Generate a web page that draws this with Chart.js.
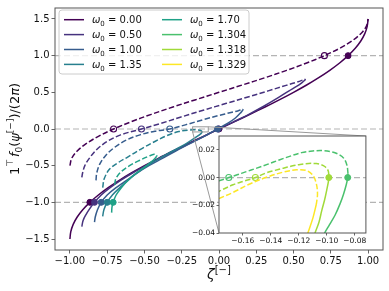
<!DOCTYPE html>
<html>
<head>
<meta charset="utf-8">
<script src="https://cdn.jsdelivr.net/npm/chart.js@4.4.0/dist/chart.umd.min.js"></script>
<style>
  html, body { margin: 0; padding: 0; background: #fff; }
  #wrap { position: relative; width: 389px; height: 291px; }
  #main { position: absolute; left: 0; top: 0; width: 389px; height: 291px; }
  #inset { position: absolute; left: 185px; top: 130px; width: 186px; height: 118px; }
</style>
</head>
<body>
<div id="wrap">
  <canvas id="main" width="389" height="291"></canvas>
  <canvas id="inset" width="186" height="118"></canvas>
</div>
<script>
// legend entries (column-major, as in the figure)
const omegaLabels = ['0.00', '0.50', '1.00', '1.35', '1.70', '1.304', '1.318', '1.329'];

// main panel curves, [zeta, value] pairs
const solid_000 = [[-1.0,-1.5],[-0.994,-1.4],[-0.978,-1.3],[-0.951,-1.2],[-0.914,-1.1],[-0.866,-1.0],[-0.809,-0.9],[-0.743,-0.8],[-0.669,-0.7],[-0.588,-0.6],[-0.5,-0.5],[-0.407,-0.4],[-0.309,-0.3],[-0.208,-0.2],[-0.105,-0.1],[0,0],[0.105,0.1],[0.208,0.2],[0.309,0.3],[0.407,0.4],[0.5,0.5],[0.588,0.6],[0.669,0.7],[0.743,0.8],[0.809,0.9],[0.866,1.0],[0.914,1.1],[0.951,1.2],[0.978,1.3],[0.994,1.4],[1.0,1.5]];
const dashed_000 = [[-1.0,-0.5],[-0.988,-0.4],[-0.951,-0.3],[-0.891,-0.2],[-0.809,-0.1],[-0.707,0],[-0.588,0.1],[-0.454,0.2],[-0.309,0.3],[-0.156,0.4],[0,0.5],[0.156,0.6],[0.309,0.7],[0.454,0.8],[0.588,0.9],[0.707,1.0],[0.809,1.1],[0.891,1.2],[0.951,1.3],[0.988,1.4],[1.0,1.5]];
const solid_050 = [[-0.92,-1.33],[-0.912,-1.25],[-0.893,-1.17],[-0.868,-1.09],[-0.835,-1.0],[-0.79,-0.9],[-0.73,-0.8],[-0.66,-0.7],[-0.58,-0.6],[-0.49,-0.5],[-0.4,-0.4],[-0.3,-0.3],[-0.2,-0.2],[-0.1,-0.1],[-0.005,0],[0.1,0.1],[0.2,0.2],[0.3,0.31],[0.4,0.43],[0.47,0.52],[0.52,0.58],[0.555,0.63],[0.575,0.665],[0.58,0.68]];
const dashed_050 = [[-0.92,-0.66],[-0.915,-0.6],[-0.9,-0.5],[-0.87,-0.4],[-0.82,-0.28],[-0.75,-0.17],[-0.66,-0.08],[-0.52,0],[-0.4,0.07],[-0.26,0.16],[-0.1,0.26],[0.05,0.35],[0.2,0.44],[0.33,0.52],[0.45,0.595],[0.53,0.645],[0.565,0.67],[0.58,0.68]];
const solid_100 = [[-0.835,-1.27],[-0.83,-1.2],[-0.815,-1.1],[-0.79,-1.0],[-0.75,-0.9],[-0.69,-0.8],[-0.62,-0.7],[-0.55,-0.6],[-0.47,-0.5],[-0.38,-0.4],[-0.29,-0.3],[-0.195,-0.2],[-0.1,-0.1],[-0.01,0],[0.06,0.08],[0.11,0.15],[0.145,0.22],[0.16,0.26],[0.162,0.27]];
const dashed_100 = [[-0.825,-0.7],[-0.82,-0.6],[-0.8,-0.48],[-0.76,-0.36],[-0.7,-0.25],[-0.62,-0.15],[-0.53,-0.08],[-0.43,-0.03],[-0.33,0],[-0.22,0.06],[-0.1,0.13],[0,0.185],[0.08,0.225],[0.13,0.25],[0.155,0.265],[0.162,0.27]];
const solid_135 = [[-0.78,-1.19],[-0.772,-1.1],[-0.75,-1.0],[-0.715,-0.9],[-0.665,-0.8],[-0.61,-0.7],[-0.55,-0.6],[-0.48,-0.5],[-0.4,-0.4],[-0.31,-0.3],[-0.22,-0.2],[-0.16,-0.12],[-0.125,-0.07],[-0.112,-0.04]];
const dashed_135 = [[-0.78,-0.8],[-0.77,-0.68],[-0.735,-0.55],[-0.67,-0.45],[-0.61,-0.38],[-0.52,-0.27],[-0.43,-0.17],[-0.35,-0.09],[-0.27,-0.035],[-0.2,-0.014],[-0.15,-0.012],[-0.122,-0.02],[-0.112,-0.04]];
const solid_170 = [[-0.72,-1.14],[-0.718,-1.07],[-0.71,-1.0],[-0.69,-0.9],[-0.655,-0.8],[-0.61,-0.7],[-0.555,-0.6],[-0.5,-0.52],[-0.45,-0.44],[-0.42,-0.38]];
const dashed_170 = [[-0.7,-0.76],[-0.69,-0.67],[-0.655,-0.58],[-0.6,-0.5],[-0.535,-0.43],[-0.47,-0.37],[-0.435,-0.345],[-0.418,-0.355],[-0.42,-0.38]];

// crossings of the reference levels in the main panel
const filledMain = [[[-0.866,-1],[0,0],[0.866,1]], [[-0.835,-1],[-0.005,0]], [[-0.79,-1],[-0.01,0]], [[-0.75,-1]], [[-0.71,-1]]];
const openMain = [[[-0.707,0],[0.707,1]], [[-0.52,0]], [[-0.33,0]], [], []];

// inset curves (zoom near the turning points)
const solid_1304 = [[-0.106,-0.05],[-0.102,-0.041],[-0.098,-0.034],[-0.094,-0.027],[-0.0905,-0.019],[-0.088,-0.012],[-0.086,-0.005],[-0.085,0],[-0.0848,0.003]];
const dashed_1304 = [[-0.0848,0.003],[-0.0855,0.0087],[-0.0875,0.0135],[-0.091,0.0165],[-0.096,0.0185],[-0.103,0.0195],[-0.11,0.0192],[-0.118,0.018],[-0.126,0.0155],[-0.134,0.0127],[-0.142,0.0097],[-0.15,0.0068],[-0.158,0.0041],[-0.164,0.002],[-0.17,0],[-0.177,-0.0024],[-0.182,-0.004]];
const solid_1318 = [[-0.1115,-0.05],[-0.1086,-0.0407],[-0.1055,-0.032],[-0.1036,-0.024],[-0.1015,-0.016],[-0.1,-0.009],[-0.0988,-0.003],[-0.0985,0],[-0.0985,0.002]];
const dashed_1318 = [[-0.0985,0.002],[-0.099,0.005],[-0.1014,0.008],[-0.1045,0.0095],[-0.1074,0.0101],[-0.113,0.0102],[-0.119,0.0095],[-0.125,0.0083],[-0.131,0.0068],[-0.137,0.0052],[-0.143,0.0035],[-0.151,0],[-0.159,-0.0025],[-0.167,-0.0052],[-0.1776,-0.0102],[-0.182,-0.012]];
const solid_1329 = [[-0.1074,-0.0191],[-0.1098,-0.0289],[-0.1134,-0.0398],[-0.1155,-0.046]];
const dashed_1329 = [[-0.182,-0.018],[-0.1776,-0.0155],[-0.1669,-0.0107],[-0.155,-0.0046],[-0.1431,0.0002],[-0.1312,0.0039],[-0.1216,0.0056],[-0.1145,0.0051],[-0.1098,0.0015],[-0.1074,-0.0046],[-0.1066,-0.0119],[-0.1074,-0.0191]];
const filledInset = [[[-0.085,0]], [[-0.0985,0]], []];
const openInset = [[[-0.17,0]], [[-0.151,0]], []];

// reference levels and axes
const refLevels = [-1, 0, 1];
const insetRefLevels = [0];
const xRange = [-1.1, 1.1];
const yRange = [-1.65, 1.65];
const xTicks = [-1, -0.75, -0.5, -0.25, 0, 0.25, 0.5, 0.75, 1];
const xTickLabels = ['\u22121.00', '\u22120.75', '\u22120.50', '\u22120.25', '0.00', '0.25', '0.50', '0.75', '1.00'];
const yTicks = [-1.5, -1, -0.5, 0, 0.5, 1, 1.5];
const yTickLabels = ['\u22121.5', '\u22121.0', '\u22120.5', '0.0', '0.5', '1.0', '1.5'];
const insetXRange = [-0.177, -0.072];
const insetYRange = [-0.04, 0.03];
const insetXTicks = [-0.16, -0.14, -0.12, -0.10, -0.08];
const insetXTickLabels = ['\u22120.16', '\u22120.14', '\u22120.12', '\u22120.10', '\u22120.08'];
const insetYTicks = [-0.04, -0.02, 0, 0.02];
const insetYTickLabels = ['\u22120.04', '\u22120.02', '0.00', '0.02'];

// styling
const viridis = ['#440154', '#46327e', '#365c8d', '#277f8e', '#1fa187', '#4ac16d', '#a0da39', '#fde725'];
const FONT = 'DejaVu Sans';
const spineColor = '#555';
const refColor = '#b4b4b4';
const insetPos = { left: 185, top: 130 };

Chart.defaults.font.family = FONT;

const toPts = arr => arr.map(p => ({ x: p[0], y: p[1] }));

function lineSet(pts, color, dashed) {
  return { data: toPts(pts), showLine: true, borderColor: color, borderWidth: 1.5,
    borderDash: dashed ? [5.5, 2.4] : [], pointRadius: 0, tension: 0.35, fill: false, clip: 0 };
}
function markSet(pts, color, open) {
  return { data: toPts(pts), showLine: false, pointRadius: 3, pointBorderWidth: open ? 1.1 : 1,
    pointBorderColor: color, pointBackgroundColor: open ? 'rgba(255,255,255,0)' : color, clip: 0 };
}
function refSet(level, range) {
  return { data: toPts([[range[0], level], [range[1], level]]), showLine: true, borderColor: refColor,
    borderWidth: 1.2, borderDash: [6, 3], pointRadius: 0, fill: false };
}
function setOrder(sets) { sets.forEach((d, i) => { d.order = -i; }); return sets; }

function axis(range, ticks, labels, size, tl, pad, fix) {
  return {
    type: 'linear', min: range[0], max: range[1],
    afterBuildTicks: s => { s.ticks = ticks.map(v => ({ value: v })); },
    afterFit: fix,
    ticks: { autoSkip: false, maxRotation: 0, padding: pad, color: '#111',
      font: { family: FONT, size: size }, callback: (v, i) => labels[i] },
    grid: { display: true, drawOnChartArea: false, drawTicks: true, tickLength: tl, tickColor: spineColor, tickWidth: 0.9 },
    border: { display: false }
  };
}

// draw text made of pieces [text, font, dy]
function pieces(ctx, parts, x, y, align) {
  let w = 0;
  parts.forEach(p => { ctx.font = p[1]; w += ctx.measureText(p[0]).width; });
  let cx = align === 'center' ? x - w / 2 : x;
  parts.forEach(p => {
    ctx.font = p[1];
    ctx.fillText(p[0], cx, y + p[2]);
    cx += ctx.measureText(p[0]).width;
  });
}

// ---- inset ----
const insetSeries = [[solid_1304, dashed_1304], [solid_1318, dashed_1318], [solid_1329, dashed_1329]];
const insetSets = insetRefLevels.map(v => refSet(v, insetXRange));
insetSeries.forEach((s, k) => {
  const c = viridis[5 + k];
  insetSets.push(lineSet(s[0], c, false), lineSet(s[1], c, true),
    markSet(filledInset[k], c, false), markSet(openInset[k], c, true));
});

const insetDecor = {
  id: 'insetDecor',
  beforeDraw(chart) {
    const { ctx, chartArea: a } = chart;
    ctx.save(); ctx.fillStyle = '#fff';
    ctx.fillRect(a.left, a.top, a.right - a.left, a.bottom - a.top);
    ctx.restore();
  },
  afterDatasetsDraw(chart) {
    const { ctx, chartArea: a } = chart;
    ctx.save(); ctx.strokeStyle = spineColor; ctx.lineWidth = 1;
    ctx.strokeRect(a.left, a.top, a.right - a.left, a.bottom - a.top);
    ctx.restore();
  }
};

const inset = new Chart(document.getElementById('inset'), {
  type: 'scatter',
  data: { datasets: setOrder(insetSets) },
  options: {
    responsive: false, animation: false, events: [],
    plugins: { legend: { display: false }, tooltip: { enabled: false } },
    layout: { padding: { top: 5, right: 5, left: 0, bottom: 0 } },
    scales: {
      x: axis(insetXRange, insetXTicks, insetXTickLabels, 7.5, 2.5, 1.5, s => { s.height = 15; }),
      y: axis(insetYRange, insetYTicks, insetYTickLabels, 7.5, 2.5, 1.5, s => { s.width = 34; })
    }
  },
  plugins: [insetDecor]
});

// ---- main ----
const mainSeries = [[solid_000, dashed_000], [solid_050, dashed_050], [solid_100, dashed_100], [solid_135, dashed_135], [solid_170, dashed_170]];
const mainSets = refLevels.map(v => refSet(v, xRange));
mainSeries.forEach((s, k) => {
  const c = viridis[k];
  mainSets.push(lineSet(s[0], c, false), lineSet(s[1], c, true),
    markSet(filledMain[k], c, false), markSet(openMain[k], c, true));
});

const mainDecor = {
  id: 'mainDecor',
  afterDatasetsDraw(chart) {
    const { ctx, chartArea: a, scales: { x, y } } = chart;
    ctx.save();
    ctx.strokeStyle = spineColor; ctx.lineWidth = 1;
    ctx.strokeRect(a.left, a.top, a.right - a.left, a.bottom - a.top);
    // zoom box and connectors to the inset
    const rx0 = x.getPixelForValue(insetXRange[0]), rx1 = x.getPixelForValue(insetXRange[1]);
    const ry0 = y.getPixelForValue(insetYRange[1]), ry1 = y.getPixelForValue(insetYRange[0]);
    const ia = inset.chartArea;
    ctx.strokeStyle = '#9a9a9a'; ctx.lineWidth = 1;
    ctx.strokeRect(rx0, ry0, rx1 - rx0, ry1 - ry0);
    ctx.beginPath();
    ctx.moveTo(rx1, ry0); ctx.lineTo(insetPos.left + ia.right, insetPos.top + ia.top);
    ctx.moveTo(rx0, ry1); ctx.lineTo(insetPos.left + ia.left, insetPos.top + ia.bottom);
    ctx.stroke();
    ctx.restore();
  },
  afterDraw(chart) {
    const { ctx, chartArea: a } = chart;
    ctx.save();
    // legend
    const bx = 59, by = 10, bw = 190, bh = 64, r = 3;
    ctx.beginPath();
    ctx.moveTo(bx + r, by); ctx.arcTo(bx + bw, by, bx + bw, by + bh, r);
    ctx.arcTo(bx + bw, by + bh, bx, by + bh, r); ctx.arcTo(bx, by + bh, bx, by, r);
    ctx.arcTo(bx, by, bx + bw, by, r); ctx.closePath();
    ctx.globalAlpha = 0.8; ctx.fillStyle = '#fff'; ctx.fill();
    ctx.globalAlpha = 1; ctx.strokeStyle = '#cccccc'; ctx.lineWidth = 1; ctx.stroke();
    ctx.textBaseline = 'alphabetic';
    omegaLabels.forEach((lab, i) => {
      const col = i < 4 ? 0 : 1, row = i % 4;
      const hy = 19.7 + row * 14.9;
      const hx = col === 0 ? 64 : 162;
      ctx.strokeStyle = viridis[i]; ctx.lineWidth = 1.5;
      ctx.beginPath(); ctx.moveTo(hx, hy); ctx.lineTo(hx + 20, hy); ctx.stroke();
      ctx.fillStyle = '#111';
      pieces(ctx, [['\u03c9', 'italic 10px ' + FONT, 0], ['0', '7px ' + FONT, 2.5],
        [' = ' + lab, '10px ' + FONT, 0]], hx + 28, hy + 3.6, 'left');
    });
    // axis titles
    ctx.fillStyle = '#111';
    pieces(ctx, [['\u03b6', 'italic 14px ' + FONT, 0], ['[\u2212]', '10px ' + FONT, -6]],
      (a.left + a.right) / 2, 279, 'center');
    ctx.translate(14, (a.top + a.bottom) / 2);
    ctx.rotate(-Math.PI / 2);
    pieces(ctx, [['1', '13px ' + FONT, 0], ['\u22a4', '9px ' + FONT, -5.5], [' ', '6px ' + FONT, 0],
      ['f', 'italic 13px ' + FONT, 0], ['0', '9px ' + FONT, 3], ['(', '13px ' + FONT, 0],
      ['\u03c8', 'italic 13px ' + FONT, 0], ['[\u2212]', '9px ' + FONT, -5.5], [')/(2', '13px ' + FONT, 0],
      ['\u03c0', 'italic 13px ' + FONT, 0], [')', '13px ' + FONT, 0]], 0, 4.5, 'center');
    ctx.restore();
  }
};

const main = new Chart(document.getElementById('main'), {
  type: 'scatter',
  data: { datasets: setOrder(mainSets) },
  options: {
    responsive: false, animation: false, events: [],
    plugins: { legend: { display: false }, tooltip: { enabled: false } },
    layout: { padding: { top: 5, right: 6, left: 0, bottom: 0 } },
    scales: {
      x: axis(xRange, xTicks, xTickLabels, 10, 3.5, 2, s => { s.height = 41; }),
      y: axis(yRange, yTicks, yTickLabels, 10, 3.5, 2, s => { s.width = 55; })
    }
  },
  plugins: [mainDecor]
});
</script>
</body>
</html>
